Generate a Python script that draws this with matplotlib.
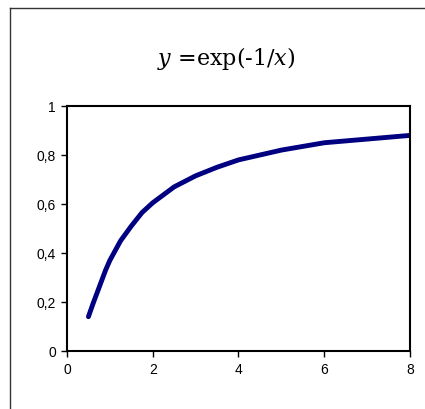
import numpy as np
import matplotlib
matplotlib.use("Agg")
import matplotlib.pyplot as plt
from matplotlib.lines import Line2D
from matplotlib.ticker import FuncFormatter

# values
x_vals = [0.5, 0.6, 0.75, 0.9, 1.0, 1.25, 1.5, 1.75, 2.0, 2.5, 3.0, 3.5, 4.0, 5.0, 6.0, 7.0, 8.0]
y_vals = [0.14, 0.19, 0.26, 0.33, 0.37, 0.45, 0.51, 0.565, 0.605, 0.67, 0.715, 0.75, 0.78, 0.82, 0.85, 0.865, 0.88]
x_ticks = [0, 2, 4, 6, 8]
y_ticks = [0, 0.2, 0.4, 0.6, 0.8, 1]

plt.rcParams['font.family'] = ['Liberation Sans', 'DejaVu Sans']
plt.rcParams['mathtext.fontset'] = 'custom'
plt.rcParams['mathtext.rm'] = 'DejaVu Serif'
plt.rcParams['mathtext.it'] = 'DejaVu Serif:italic'

fig = plt.figure(figsize=(4.25, 4.1), dpi=100)
ax = fig.add_axes([67/425, 1-352/410, (410-67)/425, (352-107)/410])

ax.plot(x_vals, y_vals, color='#000080', lw=3.5, solid_capstyle='round', solid_joinstyle='round')
ax.set_xlim(0, 8)
ax.set_ylim(0, 1)
ax.set_xticks(x_ticks)
ax.set_yticks(y_ticks)
ax.yaxis.set_major_formatter(FuncFormatter(lambda v, p: ('%g' % v).replace('.', ',')))
ax.tick_params(direction='out', length=4, width=1, labelsize=10, colors='black', pad=4)
for s in ax.spines.values():
    s.set_linewidth(1.5)

fig.text(226/425, 1-58/410, r'$y$ =exp(-1/$x$)', ha='center', va='center',
         fontsize=16, family='DejaVu Serif')

# outer chart frame (only left and top visible)
fig.add_artist(Line2D([10/425, 10/425], [0, 1-9/410], transform=fig.transFigure, color='#333333', lw=1))
fig.add_artist(Line2D([10/425, 1], [1-9/410, 1-9/410], transform=fig.transFigure, color='#333333', lw=1))

fig.savefig('out.png', dpi=100)
